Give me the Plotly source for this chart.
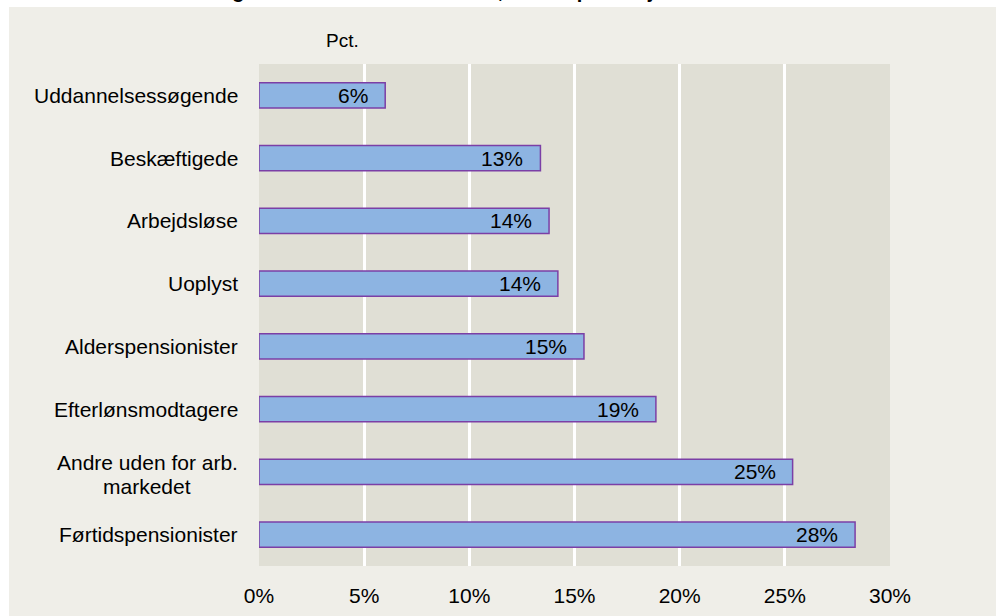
import plotly.graph_objects as go

# Categories listed top to bottom, with their shares in percent
categories = [
    "Uddannelsessøgende",
    "Beskæftigede",
    "Arbejdsløse",
    "Uoplyst",
    "Alderspensionister",
    "Efterlønsmodtagere",
    "Andre uden for arb.<br>markedet",
    "Førtidspensionister",
]
shares = [6.0, 13.38, 13.79, 14.21, 15.45, 18.87, 25.37, 28.34]

x_ticks = [0, 5, 10, 15, 20, 25, 30]
x_tick_labels = [f"{v}%" for v in x_ticks]

title_text = "Tabel 4.1 Andel borgere med mindst én kontakt, fordelt på arbejdsmarkedsstatus"
unit_text = "Pct."

FONT = "Liberation Sans, Arial, sans-serif"
PAPER = "#EFEEE8"
PLOT_BG = "#E0DFD5"
BAR_FILL = "#8DB4E2"
BAR_EDGE = "#7B3FA6"

W, H = 996, 616
M_L, M_R, M_T, M_B = 259, 106, 64, 50
PW, PH = W - M_L - M_R, H - M_T - M_B
LINE_GAP = 24          # px between lines of a wrapped category label
WRAP_DROP = 3          # wrapped labels sit slightly below the bar center
WRAP_CENTER_PX = 147   # common center of wrapped label lines


def px_to_paper_x(px):
    return (px - M_L) / PW


def px_to_paper_y(py):
    return (H - M_B - py) / PH


fig = go.Figure(
    go.Bar(
        x=shares,
        y=categories,
        orientation="h",
        width=0.4,
        marker=dict(color=BAR_FILL, line=dict(color=BAR_EDGE, width=1.5)),
        hoverinfo="skip",
    )
)

annotations = []
# value labels, right-aligned near the end of each bar
for cat, val in zip(categories, shares):
    annotations.append(
        dict(
            x=val, y=cat, xref="x", yref="y",
            text=f"{round(val)}%",
            showarrow=False, xanchor="right", yanchor="middle",
            xshift=-15,
            font=dict(family=FONT, size=21, color="#000000"),
        )
    )

# category labels to the left of the plot; wrapped labels get centered lines
for cat in categories:
    lines = cat.split("<br>")
    n = len(lines)
    for i, line in enumerate(lines):
        wrapped = n > 1
        annotations.append(
            dict(
                x=px_to_paper_x(WRAP_CENTER_PX) if wrapped else 0,
                y=cat, xref="paper", yref="y",
                text=line,
                showarrow=False,
                xanchor="center" if wrapped else "right",
                yanchor="middle",
                xshift=0 if wrapped else -19,
                yshift=((n - 1) / 2 - i) * LINE_GAP - (WRAP_DROP if wrapped else 0),
                font=dict(family=FONT, size=21, color="#000000"),
            )
        )

# unit label
annotations.append(
    dict(
        x=px_to_paper_x(324), y=px_to_paper_y(40), xref="paper", yref="paper",
        text=unit_text, showarrow=False, xanchor="left", yanchor="middle",
        font=dict(family=FONT, size=19, color="#000000"),
    )
)
# chart heading at the top edge
annotations.append(
    dict(
        x=px_to_paper_x(48), y=px_to_paper_y(4), xref="paper", yref="paper",
        text=f"<b>{title_text}</b>", showarrow=False,
        xanchor="left", yanchor="bottom",
        font=dict(family=FONT, size=20, color="#000000"),
    )
)

shapes = [
    # white page strip along the top
    dict(type="rect", xref="paper", yref="paper",
         x0=px_to_paper_x(-5), x1=px_to_paper_x(W + 5),
         y0=px_to_paper_y(7), y1=px_to_paper_y(-5),
         fillcolor="#FFFFFF", line=dict(width=0), layer="above"),
    # white page strip along the left edge
    dict(type="rect", xref="paper", yref="paper",
         x0=px_to_paper_x(-5), x1=px_to_paper_x(9),
         y0=px_to_paper_y(H + 5), y1=px_to_paper_y(-5),
         fillcolor="#FFFFFF", line=dict(width=0), layer="above"),
]

fig.update_layout(
    width=W, height=H,
    margin=dict(l=M_L, r=M_R, t=M_T, b=M_B, pad=0, autoexpand=False),
    paper_bgcolor=PAPER,
    plot_bgcolor=PLOT_BG,
    showlegend=False,
    annotations=annotations,
    shapes=shapes,
    font=dict(family=FONT, size=20, color="#000000"),
    xaxis=dict(
        range=[0, 30],
        tickvals=x_ticks, ticktext=x_tick_labels,
        showgrid=True, gridcolor="#FFFFFF", gridwidth=2.5,
        zeroline=False, showline=False,
        ticks="outside", ticklen=11, tickcolor="rgba(0,0,0,0)",
        tickfont=dict(family=FONT, size=21, color="#000000"),
        automargin=False,
        fixedrange=True,
    ),
    yaxis=dict(
        categoryorder="array", categoryarray=categories,
        autorange="reversed",
        showticklabels=False, showgrid=False, zeroline=False, showline=False,
        ticks="", automargin=False,
        fixedrange=True,
    ),
)

fig.write_html("out.html", config={"displayModeBar": False})
